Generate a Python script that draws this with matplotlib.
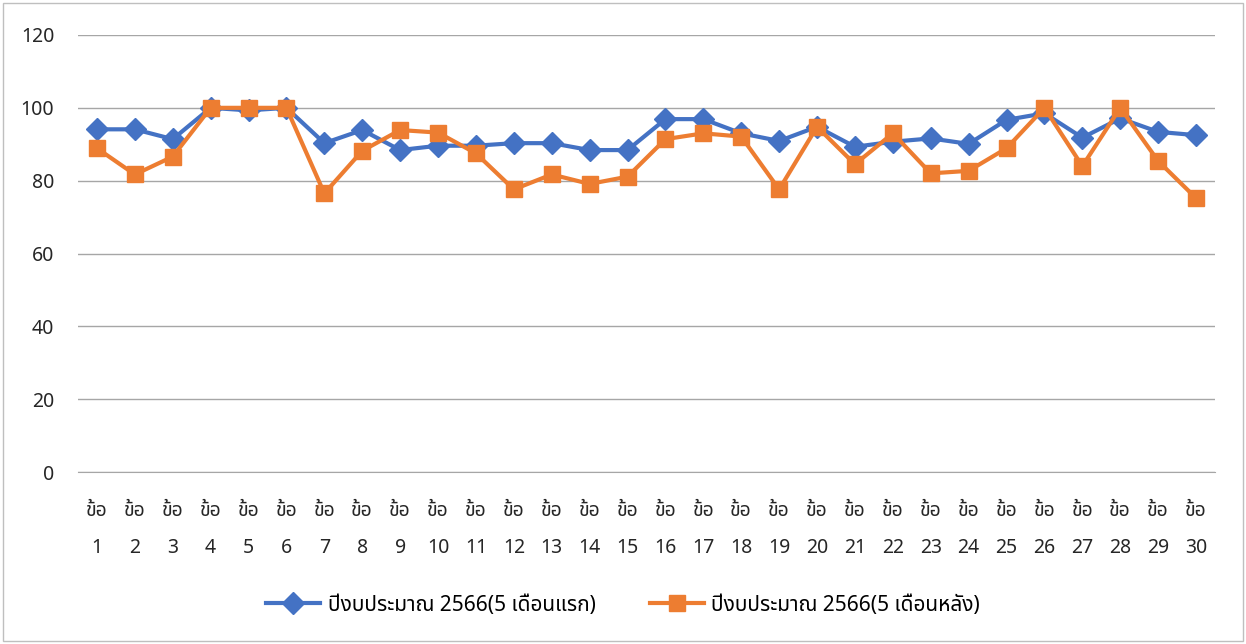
import matplotlib
matplotlib.use("Agg")
import matplotlib.pyplot as plt
from matplotlib.patches import Rectangle

plt.rcParams['font.family'] = ['Noto Sans Thai', 'Noto Sans', 'DejaVu Sans']

categories = [f"ข้อ\n{i}" for i in range(1, 31)]
series_first = [94.1, 94.1, 91.4, 100, 99.3, 100, 90.3, 93.9, 88.4, 89.6,
                89.6, 90.3, 90.3, 88.4, 88.4, 96.9, 96.9, 93.0, 90.9, 94.8,
                89.3, 90.7, 91.6, 90.1, 96.7, 98.5, 91.8, 97.1, 93.4, 92.5]
series_second = [88.9, 81.7, 86.6, 100, 100, 100, 76.5, 88.2, 93.9, 93.2,
                 87.5, 77.6, 81.7, 79.1, 81.1, 91.4, 93.0, 92.1, 77.6, 94.8,
                 84.5, 93.0, 82.0, 82.7, 88.9, 100, 84.0, 100, 85.4, 75.2]
label_first = "ปีงบประมาณ 2566(5 เดือนแรก)"
label_second = "ปีงบประมาณ 2566(5 เดือนหลัง)"
yticks = [0, 20, 40, 60, 80, 100, 120]

fig = plt.figure(figsize=(12.46, 6.44), dpi=100)
ax = fig.add_axes([78/1246, 1-472/644, (1215-78)/1246, (472-35)/644])

x = list(range(len(categories)))
ax.plot(x, series_first, color='#4472C4', lw=3, marker='D', ms=11,
        label=label_first, zorder=3)
ax.plot(x, series_second, color='#ED7D31', lw=3, marker='s', ms=12,
        label=label_second, zorder=4)

ax.set_xlim(-0.5, len(categories) - 0.5)
ax.set_ylim(0, 120)
ax.set_yticks(yticks)
ax.set_yticklabels([str(v) for v in yticks], fontsize=14, color='#262626')
ax.set_xticks(x)
ax.set_xticklabels(categories, fontsize=14, color='#262626', linespacing=2.15)
ax.tick_params(axis='both', length=0)
ax.tick_params(axis='y', pad=17)
ax.tick_params(axis='x', pad=21)
ax.grid(axis='y', color='#A6A6A6', lw=1)
ax.set_axisbelow(True)
for s in ['top', 'right', 'left']:
    ax.spines[s].set_visible(False)
ax.spines['bottom'].set_color('#A6A6A6')

fig.legend(loc='center', bbox_to_anchor=(0.5, 1-605/644), ncol=2, frameon=False,
           fontsize=15, handlelength=2.6, columnspacing=2.6, handletextpad=0.35)

fig.patches.append(Rectangle((3/1246, 3/644), 1-6/1246, 1-6/644, transform=fig.transFigure,
                             fill=False, edgecolor='#BFBFBF', lw=1))
fig.savefig("out.png", dpi=100)
